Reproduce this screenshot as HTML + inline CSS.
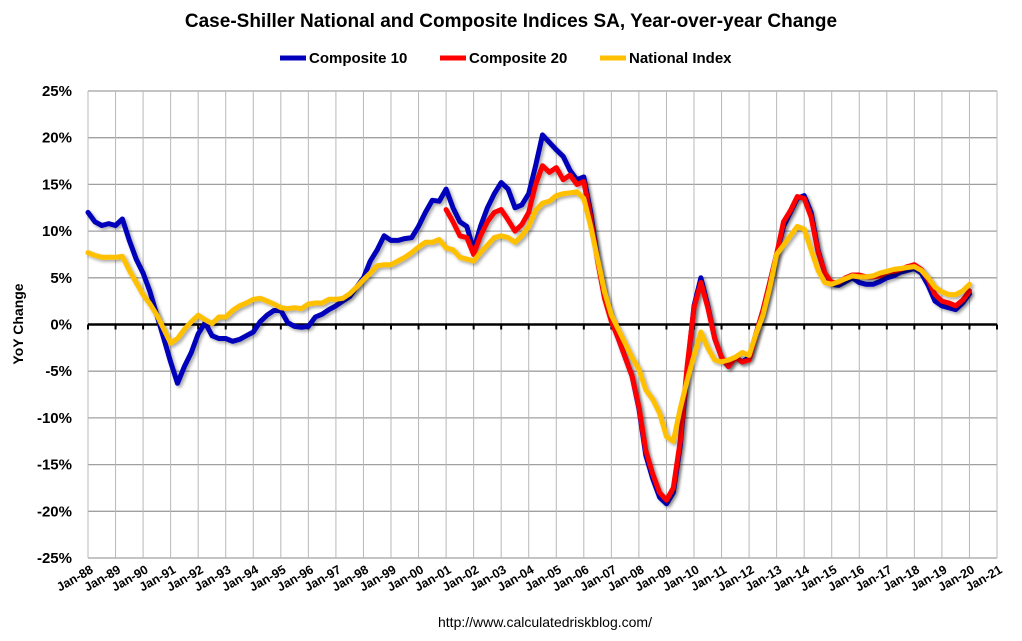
<!DOCTYPE html>
<html><head><meta charset="utf-8"><style>
html,body{margin:0;padding:0;background:#fff;}
svg{display:block;font-family:"Liberation Sans",sans-serif;}
</style></head><body>
<svg id="chart" width="1022" height="641" viewBox="0 0 1022 641" xmlns="http://www.w3.org/2000/svg">
<defs><filter id="sh" x="-5%" y="-5%" width="110%" height="110%"><feGaussianBlur in="SourceAlpha" stdDeviation="1.5"/><feOffset dx="2" dy="2"/><feComponentTransfer><feFuncA type="linear" slope="0.35"/></feComponentTransfer><feMerge><feMergeNode/><feMergeNode in="SourceGraphic"/></feMerge></filter></defs>
<text x="511" y="27" text-anchor="middle" font-size="19" font-weight="bold" fill="#000">Case-Shiller National and Composite Indices SA, Year-over-year Change</text>
<g id="legend"></g>
<g id="grid"></g>
<g id="series"></g>
<text transform="translate(23,324) rotate(-90)" text-anchor="middle" font-size="14" font-weight="bold">YoY Change</text>
<text x="545" y="627" text-anchor="middle" font-size="14" fill="#000">http://www.calculatedriskblog.com/</text>
</svg>
<script>
const yTicks=[25,20,15,10,5,0,-5,-10,-15,-20,-25];
const xYears=[1988,1989,1990,1991,1992,1993,1994,1995,1996,1997,1998,1999,2000,2001,2002,2003,2004,2005,2006,2007,2008,2009,2010,2011,2012,2013,2014,2015,2016,2017,2018,2019,2020,2021];
const comp10Start=1988.0;
const comp10=[12.0,11.0,10.6,10.8,10.6,11.3,9.0,7.0,5.5,3.5,1.0,-1.5,-4.0,-6.3,-4.5,-3.0,-1.0,0.2,-1.2,-1.5,-1.5,-1.8,-1.6,-1.2,-0.8,0.3,1.0,1.5,1.5,0.2,-0.2,-0.3,-0.2,0.8,1.1,1.6,2.0,2.5,3.0,4.0,5.0,6.8,8.0,9.5,9.0,9.0,9.2,9.3,10.5,12.0,13.3,13.2,14.5,12.5,11.0,10.5,8.0,10.5,12.5,14.0,15.2,14.5,12.5,12.8,14.0,17.0,20.3,19.5,18.7,18.0,16.5,15.5,15.8,12.0,7.0,3.0,0.5,-1.5,-3.5,-5.5,-9.0,-14.0,-16.5,-18.5,-19.2,-18.0,-13.0,-5.0,2.0,5.0,2.0,-1.5,-3.5,-4.5,-3.5,-4.0,-3.5,-1.0,1.5,4.5,7.5,10.5,12.0,13.5,13.8,12.0,8.0,5.5,4.3,4.2,4.6,5.0,4.5,4.3,4.3,4.6,5.0,5.2,5.6,5.8,6.0,5.5,4.2,2.5,2.0,1.8,1.6,2.3,3.3];
const comp20Start=2001.0;
const comp20=[12.3,11.0,9.5,9.3,7.5,9.5,11.0,12.0,12.3,11.2,10.0,10.7,12.0,15.0,17.0,16.3,16.8,15.5,16.0,15.0,15.3,11.5,6.8,2.8,0.3,-1.5,-3.5,-5.5,-8.8,-13.5,-16.0,-18.0,-18.8,-17.5,-12.5,-4.5,1.8,4.5,1.8,-1.5,-3.5,-4.5,-3.5,-4.0,-3.8,-1.0,1.5,4.5,7.5,11.0,12.2,13.7,13.5,11.5,7.8,5.5,4.5,4.5,5.0,5.3,5.3,5.1,5.1,5.2,5.6,5.7,5.9,6.2,6.4,5.9,4.8,3.2,2.5,2.3,2.0,2.6,3.6];
const natStart=1988.0;
const national=[7.7,7.4,7.2,7.2,7.2,7.3,5.8,4.5,3.2,2.2,1.0,-0.5,-2.0,-1.5,-0.5,0.3,1.0,0.5,0.1,0.8,0.8,1.5,2.0,2.3,2.7,2.8,2.5,2.2,1.8,1.7,1.8,1.7,2.2,2.3,2.3,2.7,2.7,2.8,3.3,4.0,4.8,5.5,6.3,6.4,6.4,6.8,7.2,7.7,8.3,8.8,8.8,9.1,8.2,8.0,7.2,7.0,6.8,7.7,8.5,9.3,9.5,9.3,8.8,9.5,10.5,12.2,13.0,13.2,13.8,14.0,14.1,14.2,13.5,10.5,7.0,3.5,1.0,-0.5,-2.0,-3.5,-4.8,-7.0,-8.0,-9.5,-12.0,-12.5,-9.0,-6.0,-3.3,-0.8,-2.5,-3.8,-4.0,-3.8,-3.5,-3.0,-3.3,-1.0,1.0,4.0,7.5,8.5,9.5,10.5,10.2,8.0,5.8,4.5,4.3,4.6,4.9,5.2,5.1,5.1,5.2,5.5,5.7,5.9,6.0,6.1,6.2,5.8,5.0,4.0,3.5,3.2,3.2,3.6,4.3];
const seriesNames=["Composite 10","Composite 20","National Index"];
const seriesColors=["#0000bb","#ff0000","#ffc000"];

const NS="http://www.w3.org/2000/svg";
const X0=88,X1=997,Y0=91,Y1=558;
function xs(t){return X0+(t-1988)/(2021-1988)*(X1-X0);}
function ys(v){return Y0+(25-v)/50*(Y1-Y0);}
function mk(tag,attrs,parent){const e=document.createElementNS(NS,tag);for(const k in attrs)e.setAttribute(k,attrs[k]);parent.appendChild(e);return e;}
const grid=document.getElementById('grid');
for(const v of yTicks){
  const l=mk('line',{x1:X0,x2:X1,y1:ys(v),y2:ys(v),stroke:'#a0a0a0','stroke-width':1.3},grid);
  
  
  const t=mk('text',{x:72,y:ys(v)+5,'text-anchor':'end','font-size':15,'font-weight':'bold'},grid);
  t.textContent=v+'%';
  
  
}
for(const yr of xYears){
  const x=xs(yr);
  const l=mk('line',{x1:x,x2:x,y1:Y0,y2:Y1,stroke:'#b8b8b8','stroke-width':1},grid);
  
  
  mk('line',{x1:x,x2:x,y1:ys(0),y2:ys(0)+5,stroke:'#000','stroke-width':2},grid);
  const lab='Jan-'+String(yr%100).padStart(2,'0');
  const t=mk('text',{x:x+6,y:Y1+14,'text-anchor':'end','font-size':12.5,'font-weight':'bold',transform:`rotate(-30 ${x+6} ${Y1+14})`},grid);
  t.textContent=lab;
  
  
}
const zl=mk('line',{x1:X0,x2:X1,y1:ys(0),y2:ys(0),stroke:'#000','stroke-width':2.5},grid);


const sg=document.getElementById('series');
const data=[[comp10Start,comp10],[comp20Start,comp20],[natStart,national]];
data.forEach((d,i)=>{
  const pts=d[1].map((v,j)=>xs(d[0]+j*0.25).toFixed(1)+','+ys(v).toFixed(1)).join(' ');
  const p=mk('polyline',{points:pts,fill:'none',stroke:seriesColors[i],'stroke-width':5,'stroke-linejoin':'round','stroke-linecap':'round',filter:'url(#sh)'},sg);
  
  
});
const lg=document.getElementById('legend');
const lx=[280,440,600];
seriesNames.forEach((n,i)=>{
  const g=mk('g',{},lg);
  
  
  mk('line',{x1:lx[i],x2:lx[i]+26,y1:58,y2:58,stroke:seriesColors[i],'stroke-width':5},g);
  const t=mk('text',{x:lx[i]+29,y:63,'font-size':15,'font-weight':'bold'},g);
  t.textContent=n;
});
</script>
</body></html>
